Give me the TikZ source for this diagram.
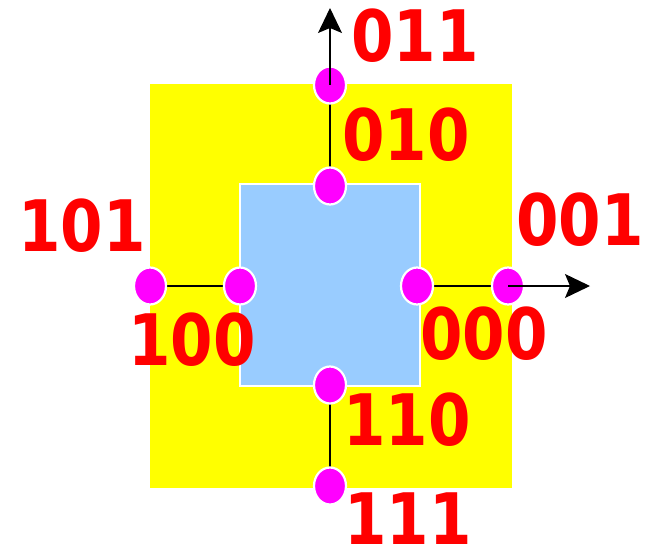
\documentclass[tikz,border=0pt]{standalone}
\usepackage{fontspec}
\newfontfamily\digitfont{DejaVu Sans}[FakeStretch=0.86]
\usetikzlibrary{arrows.meta,shapes.geometric}
\definecolor{dotmag}{HTML}{FF00FF}
\definecolor{sqblue}{HTML}{99CCFF}
\definecolor{lblred}{HTML}{FF0000}
\definecolor{bgyellow}{HTML}{FFFF00}
\begin{document}
\begin{tikzpicture}[x=1pt,y=-1pt,
  dot/.style={ellipse,draw=white,line width=2.2pt,fill=dotmag,minimum width=32pt,minimum height=37pt,inner sep=0pt},
  lbl/.style={text=lblred,inner sep=0pt,font=\digitfont\bfseries\fontsize{71}{71}\selectfont},
  axis/.style={black,line width=1.1pt},
  arr/.style={axis,-{Stealth[length=25pt,width=24pt,inset=5pt]}}]
\useasboundingbox (0,0) rectangle (648,551);
\fill[bgyellow] (150,84) rectangle (512,488);
\filldraw[fill=sqblue,draw=white,line width=1.8pt] (240,184) rectangle (420,386);
% dot positions
\coordinate (p011) at (330,85);
\coordinate (p010) at (330,186);
\coordinate (p110) at (330,385);
\coordinate (p111) at (330,486);
\coordinate (p101) at (150,286);
\coordinate (p100) at (240,286);
\coordinate (p000) at (417,286);
\coordinate (p001) at (508,286);
\coordinate (xend) at (590,286);
\coordinate (yend) at (330,8);
% lines behind dots
\draw[axis] (p101) -- (p100);
\draw[axis] (p000) -- (p001);
\draw[axis] (p010) -- (p011);
\draw[axis] (p110) -- (p111);
% dots
\foreach \n in {011,010,110,111,101,100,000,001}
  \node[dot] (d\n) at (p\n) {};
% arrows
\draw[arr] (d001.center) -- (xend);
\draw[arr] (d011.center) -- (yend);
% labels
\node[lbl] (l011) at (415,36) {011};
\node[lbl] (l010) at (406,135) {010};
\node[lbl] (l101) at (82,226) {101};
\node[lbl] (l001) at (580,220) {001};
\node[lbl] (l100) at (192,340) {100};
\node[lbl] (l000) at (484,334) {000};
\node[lbl] (l110) at (407,420) {110};
\node[lbl] (l111) at (408,519) {111};
\end{tikzpicture}
\end{document}
